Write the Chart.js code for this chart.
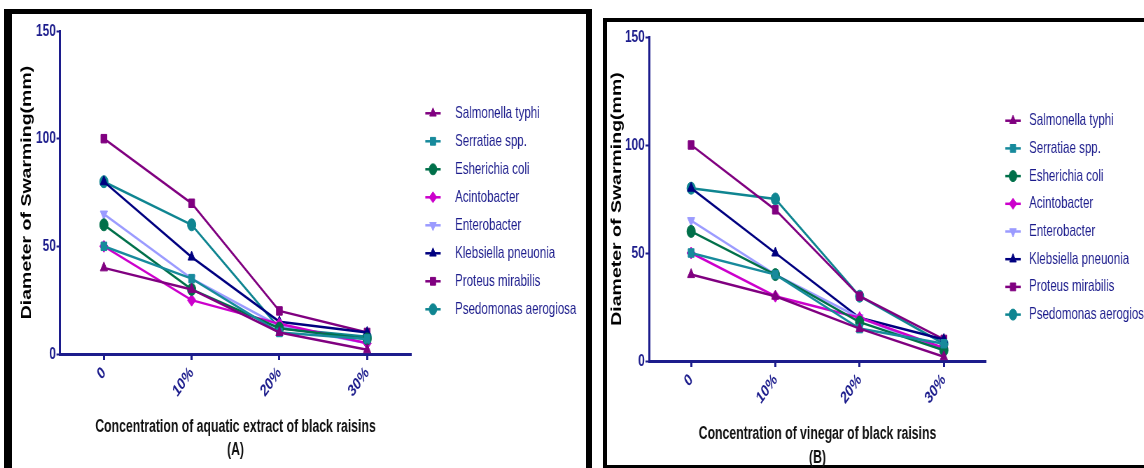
<!DOCTYPE html>
<html>
<head>
<meta charset="utf-8">
<script src="https://cdn.jsdelivr.net/npm/chart.js@4.4.0/dist/chart.umd.min.js"></script>
<style>
    html, body { margin: 0; padding: 0; background: #fff; }
    body { width: 1144px; height: 468px; position: relative; overflow: hidden; }
    .frame { position: absolute; border-style: solid; border-color: #000; box-sizing: border-box; }
    #frameA { left: 4px; top: 9px; width: 588px; height: 480px; border-width: 5px 6px 0 8px; }
    #frameB { left: 603px; top: 18px; width: 560px; height: 450px; border-width: 4px 0 3px 4px; }
    /* a figura original está comprimida na horizontal, então os canvas também */
    canvas { position: absolute; transform: scaleX(0.7); transform-origin: 0 0; }
    #chartA { left: 12px; top: 14px; }
    #chartB { left: 607px; top: 22px; }
</style>
</head>
<body>
<div class="frame" id="frameA"></div>
<div class="frame" id="frameB"></div>
<canvas id="chartA" width="820" height="454"></canvas>
<canvas id="chartB" width="767" height="446"></canvas>
<script>
// --- Dados ---
const categories = ['0', '10%', '20%', '30%'];
const yTicks = [0, 50, 100, 150];
const seriesNames = ['Salmonella typhi', 'Serratiae spp.', 'Esherichia coli', 'Acintobacter',
    'Enterobacter', 'Klebsiella pneuonia', 'Proteus mirabilis', 'Psedomonas aerogiosa'];

// (A) extrato aquoso
const salmonellaA = [40, 30, 10, 2];
const serratiaA = [50, 35, 10, 7];
const ecoliA = [60, 30, 12, 7];
const acintoA = [50, 25, 14, 5];
const enteroA = [65, 35, 13, 5];
const klebsA = [80, 45, 15, 10];
const proteusA = [100, 70, 20, 10];
const pseudoA = [80, 60, 12, 8];

// (B) vinagre
const salmonellaB = [40, 30, 15, 2];
const serratiaB = [50, 40, 15, 8];
const ecoliB = [60, 40, 18, 5];
const acintoB = [50, 30, 20, 6];
const enteroB = [65, 40, 20, 5];
const klebsB = [80, 50, 20, 10];
const proteusB = [100, 70, 30, 10];
const pseudoB = [80, 75, 30, 8];

// --- Estilos ---
const colors = ['#800080', '#178a9c', '#00704a', '#cc00cc', '#9b9bff', '#000080', '#800080', '#0f8591'];
const pointStyles = ['triangle', 'rect', 'circle', 'rectRot', 'triangle', 'triangle', 'rect', 'circle'];
const pointRotations = [0, 0, 0, 0, 180, 0, 0, 0];

const NAVY = '#1c1c8c';
const ARIAL = "'Liberation Sans', Arial, sans-serif";

/**
 * Legenda lateral: linha curta + marcador + nome, como no Prism.
 */
const sideLegend = {
    id: 'sideLegend',
    afterDraw(chart, args, opts) {
        const ctx = chart.ctx;
        ctx.save();
        chart.data.datasets.forEach((ds, i) => {
            const y = opts.top + i * opts.step;
            ctx.strokeStyle = ds.borderColor;
            ctx.lineWidth = 2.5;
            ctx.beginPath();
            ctx.moveTo(opts.markX - 11, y);
            ctx.lineTo(opts.markX + 11, y);
            ctx.stroke();
            ctx.fillStyle = ds.backgroundColor;
            ctx.lineWidth = 1;
            Chart.helpers.drawPoint(ctx, {
                pointStyle: ds.pointStyle, rotation: ds.pointRotation, radius: 5.5, borderWidth: 1
            }, opts.markX, y);
            ctx.fillStyle = NAVY;
            ctx.font = `16.5px ${ARIAL}`;
            ctx.textBaseline = 'middle';
            ctx.textAlign = 'left';
            ctx.fillText(ds.label, opts.textX, y);
        });
        ctx.restore();
    }
};

function buildDatasets(values) {
    return values.map((v, i) => ({
        label: seriesNames[i],
        data: v,
        borderColor: colors[i],
        backgroundColor: colors[i],
        borderWidth: 2.5,
        pointStyle: pointStyles[i],
        pointRotation: pointRotations[i],
        pointRadius: 6,
        pointBorderWidth: 1,
        pointBackgroundColor: colors[i],
        pointBorderColor: colors[i],
        tension: 0,
        clip: false
    }));
}

function criarGrafico(id, values, g, titleLines) {
    return new Chart(document.getElementById(id), {
        type: 'line',
        data: { labels: categories, datasets: buildDatasets(values) },
        options: {
            responsive: false,
            animation: false,
            devicePixelRatio: 1,
            layout: { padding: { top: g.padTop, right: g.padRight, left: 0, bottom: 0 } },
            plugins: {
                legend: { display: false },
                tooltip: { enabled: false },
                sideLegend: g.legend
            },
            scales: {
                x: {
                    type: 'category',
                    offset: true,
                    afterFit: (s) => { s.height = g.xHeight; },
                    grid: { drawOnChartArea: false, drawTicks: true, tickLength: 6, tickWidth: 3, tickColor: NAVY },
                    border: { color: NAVY, width: 3 },
                    ticks: {
                        autoSkip: false, minRotation: 45, maxRotation: 45, padding: 3,
                        color: NAVY, font: { family: ARIAL, size: 17, weight: 'bold' }
                    },
                    title: {
                        display: true, text: titleLines, color: '#111',
                        font: { family: ARIAL, size: 17.5, weight: 'bold', lineHeight: g.titleLH },
                        padding: { top: 0, bottom: g.xTitlePad }
                    }
                },
                y: {
                    min: 0, max: 150,
                    afterFit: (s) => { s.width = g.yWidth; },
                    afterBuildTicks: (s) => { s.ticks = yTicks.map(v => ({ value: v })); },
                    grid: { drawOnChartArea: false, drawTicks: true, tickLength: 5, tickWidth: 2, tickColor: NAVY },
                    border: { color: NAVY, width: 3 },
                    ticks: {
                        padding: 1, color: NAVY,
                        font: { family: ARIAL, size: 17, weight: 'bold' }
                    },
                    title: {
                        display: true, text: 'Diameter of Swarming(mm)', color: '#000',
                        font: { family: ARIAL, size: 19.5, weight: 'bold' },
                        padding: { top: g.yTitlePad, bottom: 0 }
                    }
                }
            }
        },
        plugins: [sideLegend]
    });
}

document.addEventListener('DOMContentLoaded', () => {
    criarGrafico('chartA',
        [salmonellaA, serratiaA, ecoliA, acintoA, enteroA, klebsA, proteusA, pseudoA],
        {
            padTop: 17, padRight: 250, xHeight: 114, yWidth: 68.6, yTitlePad: 9.7,
            xTitlePad: 6.5, titleLH: 23 / 17.5,
            legend: { markX: 601.4, textX: 632.9, top: 99.3, step: 28 }
        },
        ['Concentration of aquatic extract of black raisins', '(A)']);

    criarGrafico('chartB',
        [salmonellaB, serratiaB, ecoliB, acintoB, enteroB, klebsB, proteusB, pseudoB],
        {
            padTop: 15, padRight: 225.6, xHeight: 107, yWidth: 60, yTitlePad: 3.3,
            xTitlePad: -2.5, titleLH: 24 / 17.5,
            legend: { markX: 580, textX: 602.9, top: 98.7, step: 27.7 }
        },
        ['Concentration of vinegar of black raisins', '(B)']);
});
</script>
</body>
</html>
